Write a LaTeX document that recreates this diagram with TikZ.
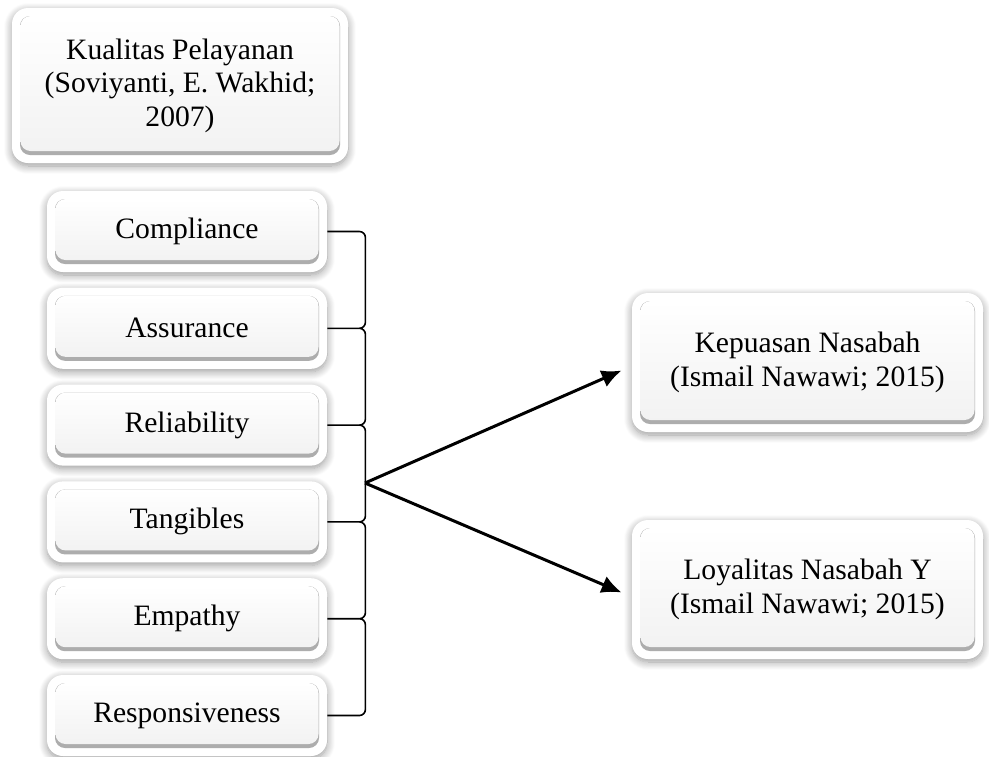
\documentclass[tikz,border=0pt]{standalone}
\usepackage{fontspec}
\setmainfont{Liberation Serif}
\usetikzlibrary{shapes,arrows.meta,positioning,calc,shadows.blur}
\definecolor{panel}{rgb}{.95,.95,.95}
\definecolor{bevel}{rgb}{.68,.68,.68}

\begin{document}
\begin{tikzpicture}[x=0.5pt,y=-0.5pt,% one unit is one pixel of the reference, y runs down
      every node/.style={
        align=center,       % so that "\\" breaks the line
        inner sep=0pt,
        font=\fontsize{14.8}{16.8}\selectfont
      },
      frame/.style={
        rectangle,rounded corners=8pt,fill=white,
        blur shadow={shadow xshift=0pt,shadow yshift=-1.5pt,shadow blur steps=10,
          shadow blur radius=4pt,shadow blur extra rounding=3pt,shadow opacity=40},
        path picture={% the grey box inside the white frame
          \fill[bevel,rounded corners=5pt]
            ([shift={(8,8)}]path picture bounding box.north west) rectangle
            ([shift={(-8,-8)}]path picture bounding box.south east);
          \shade[top color=white,bottom color=panel,rounded corners=5pt]
            ([shift={(8.5,8)}]path picture bounding box.north west) rectangle
            ([shift={(-8.5,-12)}]path picture bounding box.south east);
        }
      },
      dimbox/.style={frame,minimum width=140pt,minimum height=40.5pt},
      brace/.style={draw,line width=0.8pt,rounded corners=3pt},
      arrow/.style={draw,line width=1.5pt,-{Latex[length=10pt,width=9pt]}}
    ]
    \useasboundingbox (0,0) rectangle (989,756);

    \node[frame,minimum width=168pt,minimum height=77.5pt](KP) at (180,85.5){Kualitas Pelayanan\\
      (Soviyanti, E. Wakhid;\\ 2007)};

    \node[dimbox](D1) at (187,231.5){Compliance};
    \node[dimbox](D2)[below=7.5pt of D1]{Assurance};
    \node[dimbox](D3)[below=7.5pt of D2]{Reliability};
    \node[dimbox](D4)[below=7.5pt of D3]{Tangibles};
    \node[dimbox](D5)[below=7.5pt of D4]{Empathy};
    \node[dimbox](D6)[below=7.5pt of D5]{Responsiveness};

    \node[frame,minimum width=175.5pt,minimum height=69.5pt](KN) at (807.5,362.5){Kepuasan Nasabah\\
      (Ismail Nawawi; 2015)};
    \node[frame,minimum width=175.5pt,minimum height=69.5pt](LN) at (807.5,589.5){Loyalitas Nasabah Y\\
      (Ismail Nawawi; 2015)};

    % brackets joining the dimensions
    \path[brace]
    (D1.east) -- ++(38,0) |- (D2.east)
    (D2.east) -- ++(38,0) |- (D3.east)
    (D3.east) -- ++(38,0) |- (D4.east)
    (D4.east) -- ++(38,0) |- (D5.east)
    (D5.east) -- ++(38,0) |- (D6.east)
    ;
    \coordinate (hub) at (365,483);
    \path[arrow] (hub) -- ($(KN.west)+(-10,8)$);
    \path[arrow] (hub) -- ($(LN.west)+(-10,3)$);
  \end{tikzpicture}
\end{document}
